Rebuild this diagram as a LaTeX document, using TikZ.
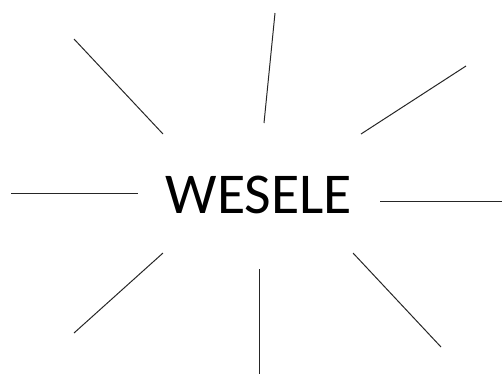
\documentclass[tikz,border=0pt]{standalone}
\usepackage{fontspec}
\setmainfont{Carlito}
\usepackage{tikz}
\usetikzlibrary{positioning}

\begin{document}
\begin{tikzpicture}[x=1bp, y=-1bp]
\tikzset{
  ray/.style={line width=1bp, draw=black!85},
  title/.style={font=\fontsize{58}{64}\selectfont, inner sep=0pt, text=black}
}
\useasboundingbox (0,0) rectangle (502,376);
\node[title, anchor=base] (wesele) at (259,213) {WESELE};
\coordinate (ulout) at (74,39);   \coordinate (ulin) at (163,134);
\coordinate (tout)  at (275,13);  \coordinate (tin)  at (264,123);
\coordinate (urout) at (466,66);  \coordinate (urin) at (361,134);
\coordinate (lout)  at (11,193);  \coordinate (lin)  at (138,193);
\coordinate (rout)  at (502,201); \coordinate (rin)  at (380,201);
\coordinate (llout) at (74,333);  \coordinate (llin) at (163,253);
\coordinate (bout)  at (259,374); \coordinate (bin)  at (259,269);
\coordinate (lrout) at (441,347); \coordinate (lrin) at (353,253);
\draw[ray] (ulout) -- (ulin);
\draw[ray] (tout) -- (tin);
\draw[ray] (urout) -- (urin);
\draw[ray] (lout) -- (lin);
\draw[ray] (rin) -- (rout);
\draw[ray] (llin) -- (llout);
\draw[ray] (bin) -- (bout);
\draw[ray] (lrin) -- (lrout);
\end{tikzpicture}
\end{document}
